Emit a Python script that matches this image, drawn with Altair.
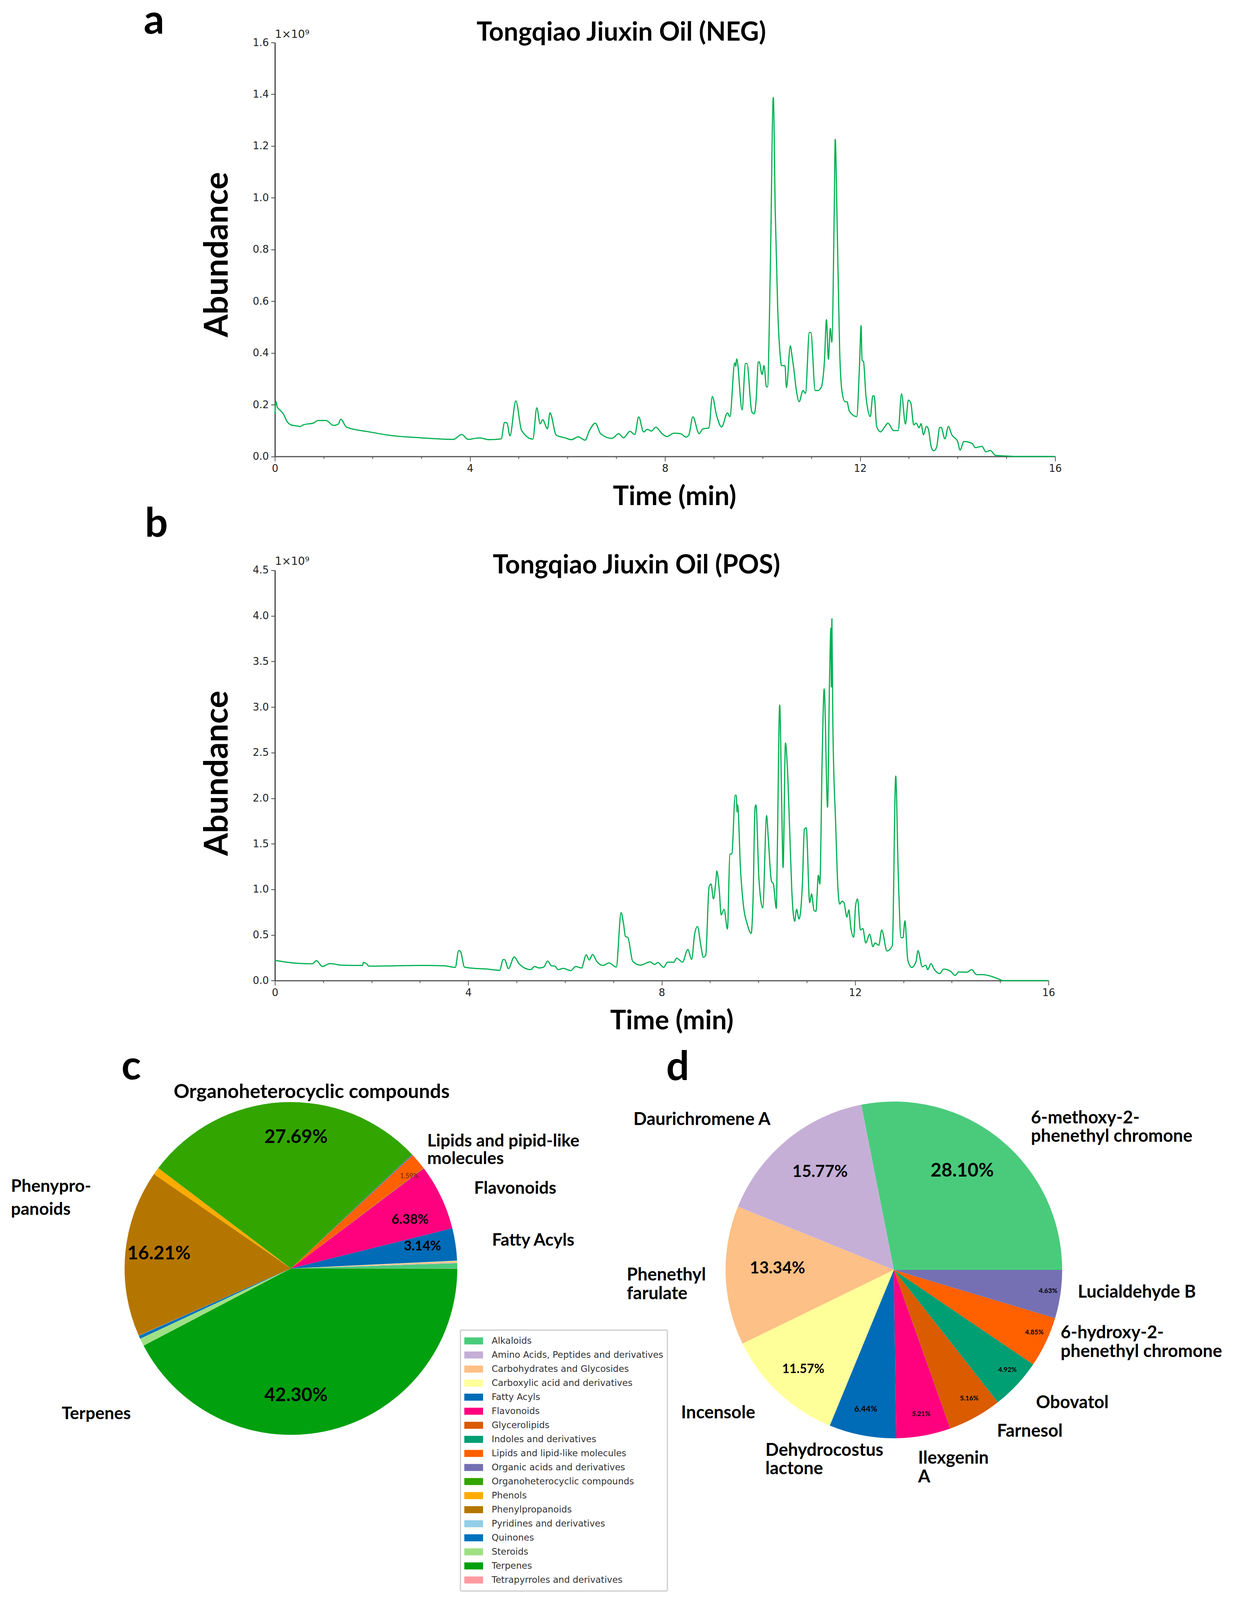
import math
import altair as alt
import pandas as pd

# ---------- chromatogram data (minutes, abundance x 1e9)
neg_t = [0,.02,.05,.1,.17,.25,.33,.45,.52,.58,.8,.88,1.05,1.2,1.3,1.35,1.47,1.94,2.34,3,3.66,3.83,3.96,4.19,4.39,4.64,4.71,4.76,4.82,4.94,5.06,5.29,5.37,5.44,5.49,5.59,5.64,5.77,5.95,6.08,6.22,6.36,6.45,6.57,6.68,6.91,7.05,7.15,7.28,7.38,7.46,7.56,7.64,7.72,7.81,7.94,
8.04,8.18,8.32,8.43,8.49,8.57,8.70,8.77,8.90,8.97,9.05,9.16,9.28,9.33,9.43,9.45,9.47,9.58,9.65,9.68,9.78,9.83,9.87,9.91,9.93,9.99,10.03,10.08,10.10,10.16,10.22,10.26,10.31,10.36,10.39,10.46,10.49,10.57,10.60,10.64,10.69,10.75,10.83,10.88,10.96,10.99,11.08,11.13,11.20,11.27,11.31,11.35,11.39,11.42,11.47,11.49,11.53,11.58,11.63,11.69,11.73,11.78,11.93,11.99,12.02,12.04,12.07,12.12,12.21,12.26,12.29,12.34,12.42,12.51,12.57,12.69,12.78,12.85,12.93,12.99,13.04,13.10,13.15,13.21,13.25,13.30,13.36,13.40,13.46,13.51,13.57,13.63,13.66,13.74,13.81,13.88,14.00,14.05,14.13,14.30,14.36,14.50,14.58,14.67,14.78,14.98,15.26,15.99]
neg_v = [.165,.213,.19,.18,.165,.135,.122,.118,.116,.122,.13,.139,.139,.12,.125,.144,.113,.095,.082,.072,.066,.085,.066,.072,.065,.068,.132,.129,.08,.215,.1,.067,.188,.126,.142,.107,.169,.082,.072,.065,.076,.063,.1,.129,.088,.07,.088,.072,.097,.085,.153,.095,.105,.098,.113,.088,
.077,.09,.088,.075,.084,.153,.088,.106,.111,.232,.164,.114,.168,.154,.362,.349,.377,.18,.359,.359,.172,.165,.223,.364,.366,.317,.351,.269,.269,.735,1.388,.949,.575,.394,.351,.351,.266,.428,.394,.34,.26,.212,.255,.244,.479,.479,.255,.255,.266,.372,.529,.376,.495,.442,.949,1.226,.895,.415,.25,.212,.212,.175,.154,.362,.506,.372,.367,.234,.154,.234,.234,.116,.095,.116,.129,.1,.1,.242,.125,.218,.207,.122,.129,.111,.127,.084,.116,.106,.036,.022,.036,.111,.113,.068,.116,.084,.058,.025,.058,.05,.034,.039,.018,.023,.004,.002,0,0]

pos_t = [0,.37,.77,.86,.98,1.14,1.37,1.81,1.83,1.91,1.94,3.05,3.51,3.73,3.80,3.84,3.92,4.12,4.38,4.65,4.72,4.75,4.83,4.95,5.05,5.29,5.37,5.46,5.56,5.64,5.72,5.79,5.86,5.96,6.12,6.22,6.34,6.44,6.50,6.57,6.66,6.79,6.91,7.06,7.16,7.21,7.25,7.30,7.40,7.56,7.76,7.85,7.92,
8.04,8.12,8.25,8.31,8.43,8.54,8.62,8.68,8.74,8.81,8.86,8.91,8.98,9.02,9.07,9.12,9.14,9.19,9.23,9.29,9.36,9.41,9.45,9.52,9.54,9.56,9.57,9.63,9.69,9.77,9.85,9.89,9.93,9.95,10.01,10.09,10.17,10.20,10.27,10.31,10.37,10.39,10.44,10.48,10.51,10.56,10.60,10.65,10.69,10.75,10.79,10.84,10.91,10.95,10.99,11.06,11.10,11.15,11.19,11.24,11.27,11.32,11.36,11.43,11.47,11.50,11.51,11.52,11.54,11.60,11.64,11.68,11.73,11.77,11.83,11.87,11.91,11.97,12.01,12.05,12.11,12.16,12.22,12.30,12.37,12.41,12.49,12.55,12.66,12.77,12.84,12.89,12.95,12.99,13.03,13.09,13.17,13.26,13.30,13.39,13.46,13.50,13.57,13.63,13.75,13.83,13.97,14.07,14.14,14.31,14.41,14.51,14.62,14.99,15.05,16]
pos_v = [.222,.194,.184,.219,.155,.187,.17,.166,.198,.177,.159,.166,.162,.145,.329,.318,.148,.134,.127,.113,.23,.23,.131,.261,.184,.12,.155,.138,.148,.215,.162,.159,.12,.134,.11,.155,.138,.283,.226,.286,.208,.166,.194,.148,.745,.625,.484,.473,.212,.17,.205,.177,.198,
.145,.202,.202,.246,.202,.341,.233,.508,.593,.382,.256,.278,1.028,1.06,.896,1.091,1.202,.997,.719,.782,.565,1.385,1.391,2.032,2.032,1.849,1.927,1.218,.823,.618,.517,.902,1.896,1.927,1.123,.798,1.811,1.596,1.091,1.06,.792,1.375,3.022,2.006,1.24,2.606,2.322,1.596,.997,.65,.782,.675,1.06,1.659,1.675,.855,.95,.77,.76,1.155,1.06,2.479,3.199,1.902,3.268,3.867,3.221,3.968,2.795,1.691,1.06,.839,.871,.855,.697,.776,.587,.476,.823,.896,.555,.571,.413,.508,.372,.413,.388,.555,.325,.382,2.243,1.218,.47,.47,.656,.224,.145,.208,.328,.151,.17,.12,.186,.129,.076,.126,.104,.057,.095,.091,.12,.066,.066,.013,0,0]

# ---------- pie data
classes = ["Alkaloids","Amino Acids, Peptides and derivatives","Carbohydrates and Glycosides","Carboxylic acid and derivatives","Fatty Acyls","Flavonoids","Glycerolipids","Indoles and derivatives","Lipids and lipid-like molecules","Organic acids and derivatives","Organoheterocyclic compounds","Phenols","Phenylpropanoids","Pyridines and derivatives","Quinones","Steroids","Terpenes","Tetrapyrroles and derivatives"]
colors = ["#4ACB7C","#C5AFD7","#FDC086","#FFFF99","#006BB6","#FF007F","#DA5B00","#009E73","#FF6000","#7570B3","#33A500","#FFAB00","#B57600","#92CFE8","#0072BD","#A0E085","#00A00F","#FF9AA0"]
pie_c_values = [.5,.05,.15,.05,3.14,6.38,.03,.02,1.59,.1,27.69,.72,16.21,.02,.3,.75,42.30,.02]
pie_d_values = [28.10,15.77,13.34,11.57,6.44,5.21,5.16,4.92,4.85,4.63]

# ---------- layout: the picture that comes back is 4096 px tall, so the
# reference's vertical positions (4434 px tall) are scaled to fit it
VS = 4096 / 4434
X0, W_A, W_B = 704, 1998, 1981
Y_A, H_A = 116 * VS, 1147 * VS
Y_B, H_B = 1578 * VS, 1137 * VS
GAP = Y_B - (Y_A + H_A)
Y_C = Y_B + H_B + GAP
C_CX, C_CY, C_R = 745, 3512 * VS, 426
D_CX, D_CY, D_R = 2289, 3516 * VS, 431

SANS = "Lato"
TICK = "DejaVu Sans"

def text_layer(texts, xs, ys, size, align="left", color="#000000", y0=Y_C, weight="bold", baseline="middle", font=SANS):
    df = pd.DataFrame({"t": texts, "px": [x - X0 for x in xs], "py": [y * VS - y0 for y in ys], "s": size if isinstance(size, list) else [size]*len(texts)})
    return alt.Chart(df).mark_text(align=align, baseline=baseline, font=font, fontWeight=weight, color=color).encode(
        x=alt.X("px:Q", scale=None), y=alt.Y("py:Q", scale=None),
        size=alt.Size("s:Q", scale=None, legend=None), text="t:N")

def chromatogram(t, v, ymax, ystep_vals, w, h, title, title_x, title_y, label, label_x, label_base, time_x, time_y, y0, exp_y, abund_y):
    df = pd.DataFrame({"t": t, "v": v})
    xaxis = alt.Axis(values=list(range(17)), labelExpr="datum.value % 4 === 0 ? datum.label : ''", format="d",
                     tickSize={"condition": {"test": "datum.value % 4 === 0", "value": 12}, "value": 6},
                     labelFont=TICK, labelFontSize=26, labelColor="#222222", labelPadding=6, labelFlush=False,
                     domainColor="#555555", domainWidth=3, tickColor="#555555", tickWidth=2, grid=False,
                     title="Time (min)", titleFont=SANS, titleFontSize=68, titleFontWeight="bold", titleColor="#000000",
                     titleX=time_x - X0, titleY=time_y * VS - (y0 + h), titleBaseline="middle", titleAlign="center")
    yaxis = alt.Axis(values=ystep_vals, format=".1f", tickSize=10, labelFont=TICK, labelFontSize=26, labelColor="#222222", labelPadding=6,
                     domainColor="#444444", domainWidth=3, tickColor="#444444", tickWidth=2, grid=False,
                     title="Abundance", titleFont=SANS, titleFontSize=84, titleFontWeight="bold", titleColor="#000000",
                     titleX=557 - X0, titleY=abund_y * VS - y0, titleAngle=270, titleBaseline="middle", titleAlign="center")
    line = alt.Chart(df).mark_line(color="#00B050", strokeWidth=3, interpolate="monotone").encode(
        x=alt.X("t:Q", axis=xaxis, scale=alt.Scale(domain=[0, 16], nice=False)),
        y=alt.Y("v:Q", axis=yaxis, scale=alt.Scale(domain=[0, ymax], nice=False)))
    exp = text_layer(["1×10⁹"], [X0], [exp_y], 28, y0=y0, weight="normal", font=TICK, color="#222222")
    lab = text_layer([label], [label_x], [label_base], 104, y0=y0, baseline="alphabetic")
    ttl = text_layer([title], [title_x], [title_y], 66, y0=y0, align="center", baseline="alphabetic")
    return alt.layer(line, exp, lab, ttl).properties(width=w, height=h)

panel_a = chromatogram(neg_t, neg_v, 1.6, [.2*i for i in range(9)], W_A, H_A, "Tongqiao Jiuxin Oil (NEG)", 1591, 111, "a", 368, 91, 1727, 1375, Y_A, 94, 703)
panel_b = chromatogram(pos_t, pos_v, 4.5, [.5*i for i in range(10)], W_B, H_B, "Tongqiao Jiuxin Oil (POS)", 1630, 1587, "b", 371, 1485, 1720, 2828, Y_B, 1554, 2140)

def pie(values, cx, cy, r):
    df = pd.DataFrame({"c": classes[:len(values)], "v": values, "i": list(range(len(values)))})
    return alt.Chart(df).mark_arc(radius=r).encode(
        theta=alt.Theta("v:Q", stack=True, scale=alt.Scale(range=[math.pi/2, math.pi/2 - 2*math.pi])),
        order=alt.Order("i:Q"),
        color=alt.Color("c:N", scale=alt.Scale(domain=classes, range=colors), sort=classes,
                        legend=alt.Legend(title=None, orient="none", legendX=1179 - X0, legendY=3684 * VS - Y_A,
                                          symbolType="M-1,-0.375H1V0.375H-1Z", symbolSize=2304, symbolStrokeWidth=0, symbolOpacity=1,
                                          clipHeight=35.6, rowPadding=0, labelOffset=22, padding=10,
                                          labelFont=TICK, labelFontSize=23, labelColor="#333333", labelLimit=600,
                                          strokeColor="#CCCCCC", cornerRadius=3, fillColor="#FFFFFF",
                                          values=classes)),
        x=alt.value(cx - X0), y=alt.value(cy - Y_C))

pie_c = pie(pie_c_values, C_CX, C_CY, C_R)
pie_d = pie(pie_d_values, D_CX, D_CY, D_R)

c_big = text_layer(["27.69%","16.21%","42.30%"], [758,407,758], [3149,3472,3865], 48, align="center")
c_mid = text_layer(["6.38%","3.14%"], [1050,1082], [3378,3451], 34, align="center")
c_small = text_layer(["1.59%"], [1048], [3256], 17, align="center", color="#5A2A00", weight="normal")
c_names = text_layer(["Organoheterocyclic compounds"], [798], [3024], 50, align="center")
c_left = text_layer(["Lipids and pipid-like","molecules","Flavonoids","Fatty Acyls","Phenypro-","panoids","Terpenes"],
                    [1094,1094,1214,1260,28,28,158], [3160,3209,3291,3435,3286,3349,3915], 44)
d_pct = text_layer(["28.10%","15.77%","13.34%","11.57%","6.44%","5.21%","5.16%","4.92%","4.85%","4.63%"],
                   [2464,2100,1991,2057,2217,2359,2482,2580,2649,2684],
                   [3242,3244,3512,3791,3902,3916,3872,3793,3689,3574],
                   [48,42,42,32,21,17,17,17,17,17], align="center")
d_names = text_layer(["Daurichromene A","6-methoxy-2-","phenethyl chromone","Phenethyl","farulate","Lucialdehyde B","6-hydroxy-2-","phenethyl chromone","Obovatol","Farnesol","Ilexgenin","A","Dehydrocostus","lactone","Incensole"],
                     [1622,2640,2640,1605,1605,2760,2716,2716,2653,2553,2351,2351,1960,1960,1744],
                     [3099,3095,3146,3530,3582,3578,3690,3742,3884,3963,4038,4090,4016,4067,3912], 45)
panel_labels = text_layer(["c","d"], [311,1706], [2988,2990], 104, baseline="alphabetic")

panel_c = alt.layer(pie_c, pie_d, c_big, c_mid, c_small, c_names, c_left, d_pct, d_names, panel_labels).resolve_scale(theta="independent").properties(width=2440, height=1270)

chart = alt.vconcat(panel_a, panel_b, panel_c, spacing=GAP, bounds="flush").properties(
    padding={"left": 20, "top": -6, "right": 0, "bottom": 0}, background="#FFFFFF"
).configure_view(stroke=None).configure_legend(strokeWidth=3)

chart.save("out.html", embed_options={"renderer": "svg", "actions": False})
